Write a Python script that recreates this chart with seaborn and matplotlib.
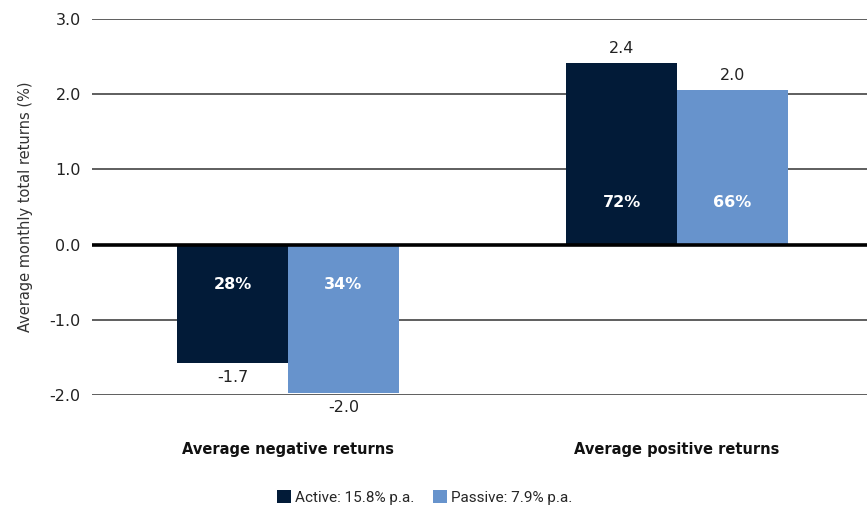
import matplotlib
matplotlib.use("Agg")
import matplotlib.pyplot as plt
import numpy as np
import pandas as pd
import seaborn as sns

# data
categories = ["Average negative returns", "Average positive returns"]
series = ["Active: 15.8% p.a.", "Passive: 7.9% p.a."]
active_vals = [-1.57, 2.42]
passive_vals = [-1.97, 2.05]
active_labels = ["-1.7", "2.4"]
passive_labels = ["-2.0", "2.0"]
active_share = ["28%", "72%"]
passive_share = ["34%", "66%"]
yticks = [-2.0, -1.0, 0.0, 1.0, 2.0, 3.0]

colors = ["#021B38", "#6793CC"]

df = pd.DataFrame({
    "category": categories * 2,
    "series": [series[0]] * 2 + [series[1]] * 2,
    "value": active_vals + passive_vals,
})

sns.set_style("white")
plt.rcParams["font.family"] = ["DejaVu Sans"]

fig = plt.figure(figsize=(8.67, 5.11), dpi=100)
ax = fig.add_axes([0.106, 0.227, 0.894, 0.736])

sns.barplot(data=df, x="category", y="value", hue="series", order=categories,
            hue_order=series, palette=colors, width=0.57, saturation=1,
            ax=ax, zorder=3, linewidth=0)

ax.set_ylim(-2.0, 3.0)
ax.set_xlim(-0.504, 1.488)
ax.set_yticks(yticks)
ax.set_yticklabels(["%.1f" % t for t in yticks], fontsize=11.5, color="#222222")
ax.tick_params(axis="y", length=0, pad=8)
ax.set_xticks([])
ax.set_xlabel("")
ax.set_ylabel("Average monthly total returns (%)", fontsize=10.5, color="#333333", labelpad=12)
for s in ax.spines.values():
    s.set_visible(False)

for t in yticks:
    if t == 0:
        ax.axhline(t, color="black", lw=2.6, zorder=4)
    else:
        ax.axhline(t, color="#333333", lw=1.1, zorder=1)

# value labels and shares
bar_labels = [active_labels, passive_labels]
shares = [active_share, passive_share]
for cont, labs, sh in zip(ax.containers, bar_labels, shares):
    for bar, lab, s in zip(cont, labs, sh):
        xc = bar.get_x() + bar.get_width() / 2
        h = bar.get_height()
        if h < 0:
            ax.annotate(lab, (xc, h), xytext=(0, -5), textcoords="offset points",
                        ha="center", va="top", fontsize=11.5, color="#222222",
                        annotation_clip=False)
            ax.text(xc, -0.53, s, ha="center", va="center", fontsize=11.5,
                    color="white", fontweight="bold", zorder=5)
        else:
            ax.annotate(lab, (xc, h), xytext=(0, 5), textcoords="offset points",
                        ha="center", va="bottom", fontsize=11.5, color="#222222")
            ax.text(xc, 0.56, s, ha="center", va="center", fontsize=11.5,
                    color="white", fontweight="bold", zorder=5)

for i, c in enumerate(categories):
    ax.text(i, -2.72, c, ha="center", va="center", fontsize=10.5,
            fontweight="bold", color="#111111")

handles, labels = ax.get_legend_handles_labels()
ax.legend_.remove()
fig.legend(handles, labels, loc="center", bbox_to_anchor=(0.49, 0.027),
           ncol=2, frameon=False, prop={"family": "Roboto", "size": 11},
           handlelength=0.9, handleheight=0.9, handletextpad=0.3,
           columnspacing=1.2)

fig.savefig("out.png", dpi=100)
